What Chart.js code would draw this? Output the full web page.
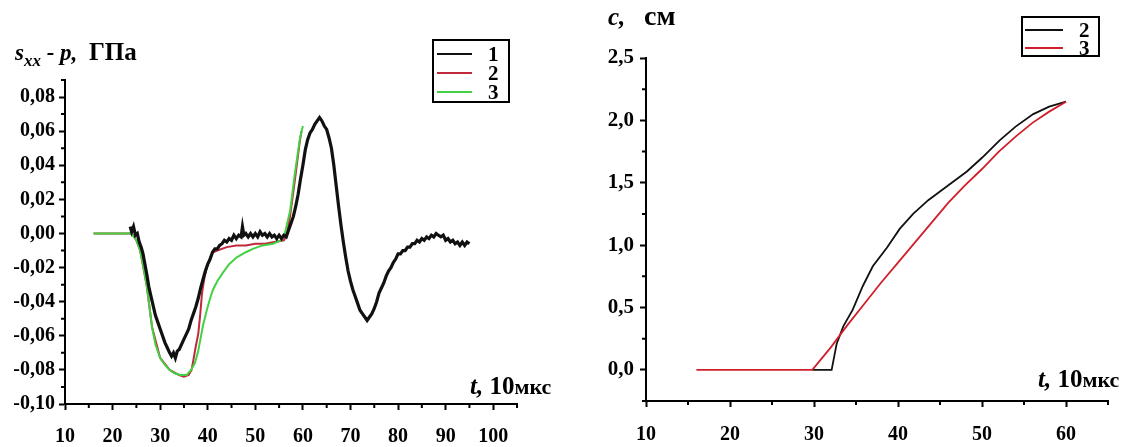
<!DOCTYPE html>
<html>
<head>
<meta charset="utf-8">
<script src="https://cdn.jsdelivr.net/npm/chart.js@4.4.1/dist/chart.umd.min.js"></script>
<style>
  html, body { margin: 0; padding: 0; background: #fff; }
  body { width: 1140px; height: 447px; position: relative; overflow: hidden;
         font-family: "Liberation Serif", "Times New Roman", serif; font-weight: bold; color: #000; }
  canvas { position: absolute; top: 0; }
  #leftChart { left: 0; }
  #rightChart { left: 570px; }
  .lbl { position: absolute; white-space: nowrap; line-height: 1; }
  .lbl i { font-style: italic; }
  .legend { position: absolute; border: 2px solid #000; box-sizing: border-box; }
  .legend .row { position: absolute; left: 0; right: 0; height: 20px; }
  .legend .ln { position: absolute; height: 2px; top: 9px; }
  .legend .tx { position: absolute; top: 0; font-size: 21px; line-height: 20px; }
</style>
</head>
<body>
<canvas id="leftChart" width="570" height="447"></canvas>
<canvas id="rightChart" width="570" height="447"></canvas>

<div class="lbl" style="left:15px; top:39px; font-size:23px;"><i>s</i><sub style="font-size:17px;"><i>xx</i></sub><i> - p,</i>&nbsp;&nbsp;<span style="font-size:25px;">ГПа</span></div>
<div class="lbl" style="left:470px; top:373px; font-size:25px;"><i>t,</i> 10<span style="font-size:22px;">мкс</span></div>

<div class="lbl" style="left:608px; top:2px; font-size:25px;"><i>c,</i>&nbsp;&nbsp; <span style="font-size:28px;">см</span></div>
<div class="lbl" style="left:1038px; top:366px; font-size:25px;"><i>t,</i> 10<span style="font-size:22px;">мкс</span></div>

<div class="legend" style="left:432px; top:39px; width:78px; height:64px;">
  <div class="row" style="top:3px;"><div class="ln" style="left:3px; width:35px; background:#111;"></div><div class="tx" style="left:54px;">1</div></div>
  <div class="row" style="top:22px;"><div class="ln" style="left:3px; width:35px; background:#c0283c;"></div><div class="tx" style="left:54px;">2</div></div>
  <div class="row" style="top:41px;"><div class="ln" style="left:3px; width:35px; background:#44d044;"></div><div class="tx" style="left:54px;">3</div></div>
</div>
<div class="legend" style="left:1021px; top:16px; width:79px; height:41px;">
  <div class="row" style="top:2px;"><div class="ln" style="left:2px; width:38px; background:#111;"></div><div class="tx" style="left:56px;">2</div></div>
  <div class="row" style="top:20px;"><div class="ln" style="left:2px; width:38px; background:#d01f2a;"></div><div class="tx" style="left:56px;">3</div></div>
</div>

<script>
// ---- left panel: s_xx - p, GPa ----
const xTicksL = [10, 20, 30, 40, 50, 60, 70, 80, 90, 100];
const xMinorL = [15, 25, 35, 45, 55, 65, 75, 85, 95, 105];
const yTicksL = [-0.10, -0.08, -0.06, -0.04, -0.02, 0.00, 0.02, 0.04, 0.06, 0.08];
const yMinorL = [-0.09, -0.07, -0.05, -0.03, -0.01, 0.01, 0.03, 0.05, 0.07, 0.09];

// curve 1 (measured, noisy)
const t1 = [23.7, 24.0, 24.4, 24.8, 25.2, 25.6, 26.0, 26.4, 26.8, 27.2, 27.6, 28.0, 28.5, 29.0, 29.5,
  30.0, 30.5, 31.0, 31.5, 32.0, 32.4, 32.8, 33.2, 33.6, 34.0, 34.5, 35.0, 35.5, 36.0, 36.5, 37.0, 37.5,
  38.0, 38.5, 39.0, 39.5, 40.0, 40.5, 41.0, 41.5, 42.0, 42.5, 43.0, 43.5, 44.0, 44.5, 45.0, 45.5, 46.0,
  46.5, 47.0, 47.3, 47.6, 48.0, 48.5, 49.0, 49.5, 50.0, 50.5, 51.0, 51.5, 52.0, 52.5, 53.0, 53.5, 54.0,
  54.5, 55.0, 55.5, 56.0, 56.5, 57.0, 57.5, 58.0, 58.5, 59.0, 59.5, 60.0, 60.5, 61.0, 61.5, 62.0, 62.5,
  63.0, 63.5, 64.0, 64.5, 65.0, 65.5, 66.0, 66.5, 67.0, 67.5, 68.0, 68.5, 69.0, 69.5, 70.0, 70.5, 71.0,
  71.5, 72.0, 72.5, 73.0, 73.5, 74.0, 74.5, 75.0, 75.5, 76.0, 76.5, 77.0, 77.5, 78.0, 78.5, 79.0, 79.5,
  80.0, 80.5, 81.0, 81.5, 82.0, 82.5, 83.0, 83.5, 84.0, 84.5, 85.0, 85.5, 86.0, 86.5, 87.0, 87.5, 88.0,
  88.5, 89.0, 89.5, 90.0, 90.5, 91.0, 91.5, 92.0, 92.5, 93.0, 93.5, 94.0, 94.5, 95.0];
const s1 = [0.004, 0.001, 0.004, -0.001, 0.000, -0.005, -0.008, -0.012, -0.018, -0.024, -0.031, -0.036, -0.042, -0.048, -0.052,
  -0.056, -0.060, -0.064, -0.067, -0.070, -0.072, -0.070, -0.073, -0.069, -0.068, -0.065, -0.062, -0.059, -0.056, -0.051, -0.047, -0.043,
  -0.038, -0.032, -0.027, -0.022, -0.018, -0.015, -0.011, -0.009, -0.009, -0.007, -0.006, -0.004, -0.005, -0.003, -0.004, -0.001, -0.003,
  -0.001, -0.002, 0.004, -0.001, 0.000, -0.002, 0.000, -0.002, 0.000, -0.002, 0.001, -0.001, 0.000, -0.002, 0.000, -0.002, -0.001,
  -0.003, -0.001, -0.003, -0.001, -0.002, 0.002, 0.006, 0.010, 0.016, 0.023, 0.032, 0.040, 0.049, 0.055, 0.059, 0.061, 0.064,
  0.066, 0.068, 0.066, 0.063, 0.061, 0.056, 0.050, 0.040, 0.028, 0.016, 0.005, -0.005, -0.014, -0.022, -0.028, -0.033, -0.037,
  -0.041, -0.045, -0.047, -0.049, -0.051, -0.049, -0.047, -0.044, -0.040, -0.035, -0.032, -0.029, -0.025, -0.022, -0.020, -0.017, -0.015,
  -0.012, -0.012, -0.010, -0.010, -0.008, -0.008, -0.006, -0.006, -0.004, -0.005, -0.003, -0.004, -0.002, -0.003, -0.001, -0.002, 0.000,
  -0.001, -0.002, -0.001, -0.004, -0.003, -0.005, -0.004, -0.006, -0.005, -0.007, -0.005, -0.007, -0.005, -0.006];

// curve 2
const t2 = [16, 24, 25, 25.8, 27.2, 28.3, 30, 32, 34, 35, 36, 36.6, 37, 37.5, 38, 38.4, 38.8, 39.3, 39.8,
  40.5, 41.1, 42, 44, 46, 48, 50, 52, 54, 56, 56.6, 57.3, 58.3, 59.3, 59.7];
const s2 = [0, 0, -0.004, -0.010, -0.031, -0.055, -0.073, -0.080, -0.083, -0.084, -0.083, -0.080, -0.074, -0.066, -0.059, -0.048, -0.035, -0.026, -0.020,
  -0.014, -0.011, -0.010, -0.008, -0.007, -0.007, -0.006, -0.006, -0.005, -0.004, -0.001, 0.010, 0.031, 0.053, 0.060];

// curve 3
const t3 = [16, 24, 25, 25.8, 26.5, 27.2, 28.3, 29, 30, 31, 32, 33, 34.2, 35.6, 36.5, 37.3, 38, 38.4, 39,
  39.8, 40.5, 41.1, 42, 43.2, 44.5, 46.1, 48, 49.5, 51.5, 53.7, 55.5, 56.2, 57.3, 58.3, 59.4, 60];
const s3 = [0, 0, -0.004, -0.010, -0.020, -0.031, -0.055, -0.065, -0.073, -0.077, -0.080, -0.082, -0.083, -0.083, -0.080, -0.076, -0.069, -0.063, -0.054,
  -0.045, -0.038, -0.033, -0.028, -0.023, -0.018, -0.014, -0.011, -0.009, -0.007, -0.006, -0.004, 0.000, 0.013, 0.035, 0.056, 0.063];

// ---- right panel: c, cm ----
const xTicksR = [10, 20, 30, 40, 50, 60];
const xMinorR = [15, 25, 35, 45, 55, 65];
const yTicksR = [0.0, 0.5, 1.0, 1.5, 2.0, 2.5];
const yMinorR = [-0.25, 0.25, 0.75, 1.25, 1.75, 2.25];

const tc2 = [29.8, 32.1, 32.7, 33.5, 34.6, 35.8, 37, 38.7, 40.2, 41.8, 43.6, 46, 48.2, 50, 52.1, 54, 56.1, 58, 60];
const c2 = [0, 0, 0.21, 0.35, 0.48, 0.67, 0.83, 0.98, 1.13, 1.25, 1.36, 1.48, 1.59, 1.70, 1.84, 1.95, 2.05, 2.11, 2.15];

const tc3 = [16, 29.8, 32, 34, 36, 38, 40, 42, 44, 46, 48, 50, 52, 54, 56, 58, 60];
const c3 = [0, 0, 0.18, 0.36, 0.53, 0.70, 0.86, 1.02, 1.18, 1.34, 1.48, 1.61, 1.75, 1.87, 1.98, 2.07, 2.15];

function pts(xs, ys) {
  return xs.map((x, i) => ({ x: x, y: ys[i] }));
}

function comma(v, digits) {
  return v.toFixed(digits).replace('.', ',');
}

// short ticks between the labelled ones
const minorTicks = {
  id: 'minorTicks',
  afterDraw(chart, args, opts) {
    const ctx = chart.ctx;
    const xs = chart.scales.x, ys = chart.scales.y;
    ctx.save();
    ctx.strokeStyle = '#000';
    ctx.lineWidth = 2;
    ctx.beginPath();
    opts.x.forEach(v => {
      const px = xs.getPixelForValue(v);
      ctx.moveTo(px, xs.top);
      ctx.lineTo(px, xs.top + 4);
    });
    opts.y.forEach(v => {
      const py = ys.getPixelForValue(v);
      ctx.moveTo(ys.right, py);
      ctx.lineTo(ys.right - 4, py);
    });
    ctx.stroke();
    ctx.restore();
  }
};

function axis(min, max, ticks, digits, size, fit) {
  return {
    type: 'linear',
    min: min,
    max: max,
    afterBuildTicks: s => { s.ticks = ticks.map(v => ({ value: v })); },
    afterFit: fit,
    grid: { display: true, drawOnChartArea: false, drawTicks: true, tickLength: 6, tickColor: '#000', tickWidth: 2 },
    border: { display: true, color: '#000', width: 2 },
    ticks: {
      color: '#000',
      font: { family: 'Liberation Serif', size: size, weight: 'bold' },
      padding: 4,
      autoSkip: false,
      maxRotation: 0,
      callback: v => digits === null ? String(v) : comma(v, digits)
    }
  };
}

const leftX = axis(10, 105, xTicksL, null, 20, s => { s.height = 43; });
leftX.ticks.padding = 15;
const leftY = axis(-0.10, 0.09, yTicksL, 2, 20, s => { s.width = 65; });

const leftCtx = document.getElementById('leftChart').getContext('2d');
const leftChart = new Chart(leftCtx, {
  type: 'line',
  data: {
    datasets: [{
      label: '1',
      data: pts(t1, s1),
      borderColor: '#111',
      borderWidth: 3.2,
      order: 1
    }, {
      label: '2',
      data: pts(t2, s2),
      borderColor: '#c0283c',
      borderWidth: 2,
      order: 3
    }, {
      label: '3',
      data: pts(t3, s3),
      borderColor: '#44d044',
      borderWidth: 2,
      order: 2
    }]
  },
  options: {
    responsive: false,
    animation: false,
    devicePixelRatio: 1,
    elements: { point: { radius: 0 }, line: { tension: 0 } },
    layout: { padding: { top: 80, right: 53, left: 0, bottom: 0 } },
    plugins: {
      legend: { display: false },
      tooltip: { enabled: false },
      minorTicks: { x: xMinorL, y: yMinorL }
    },
    scales: { x: leftX, y: leftY }
  },
  plugins: [minorTicks]
});

const rightX = axis(10, 65, xTicksR, null, 20, s => { s.height = 46; });
rightX.ticks.padding = 16;
const rightY = axis(-0.25, 2.5, yTicksR, 1, 21, s => { s.width = 76; });
rightY.ticks.padding = 6;

const rightCtx = document.getElementById('rightChart').getContext('2d');
const rightChart = new Chart(rightCtx, {
  type: 'line',
  data: {
    datasets: [{
      label: '2',
      data: pts(tc2, c2),
      borderColor: '#111',
      borderWidth: 1.8,
      order: 2
    }, {
      label: '3',
      data: pts(tc3, c3),
      borderColor: '#d01f2a',
      borderWidth: 1.8,
      order: 1
    }]
  },
  options: {
    responsive: false,
    animation: false,
    devicePixelRatio: 1,
    elements: { point: { radius: 0 }, line: { tension: 0 } },
    layout: { padding: { top: 58, right: 32, left: 0, bottom: 0 } },
    plugins: {
      legend: { display: false },
      tooltip: { enabled: false },
      minorTicks: { x: xMinorR, y: yMinorR }
    },
    scales: { x: rightX, y: rightY }
  },
  plugins: [minorTicks]
});
</script>
</body>
</html>
